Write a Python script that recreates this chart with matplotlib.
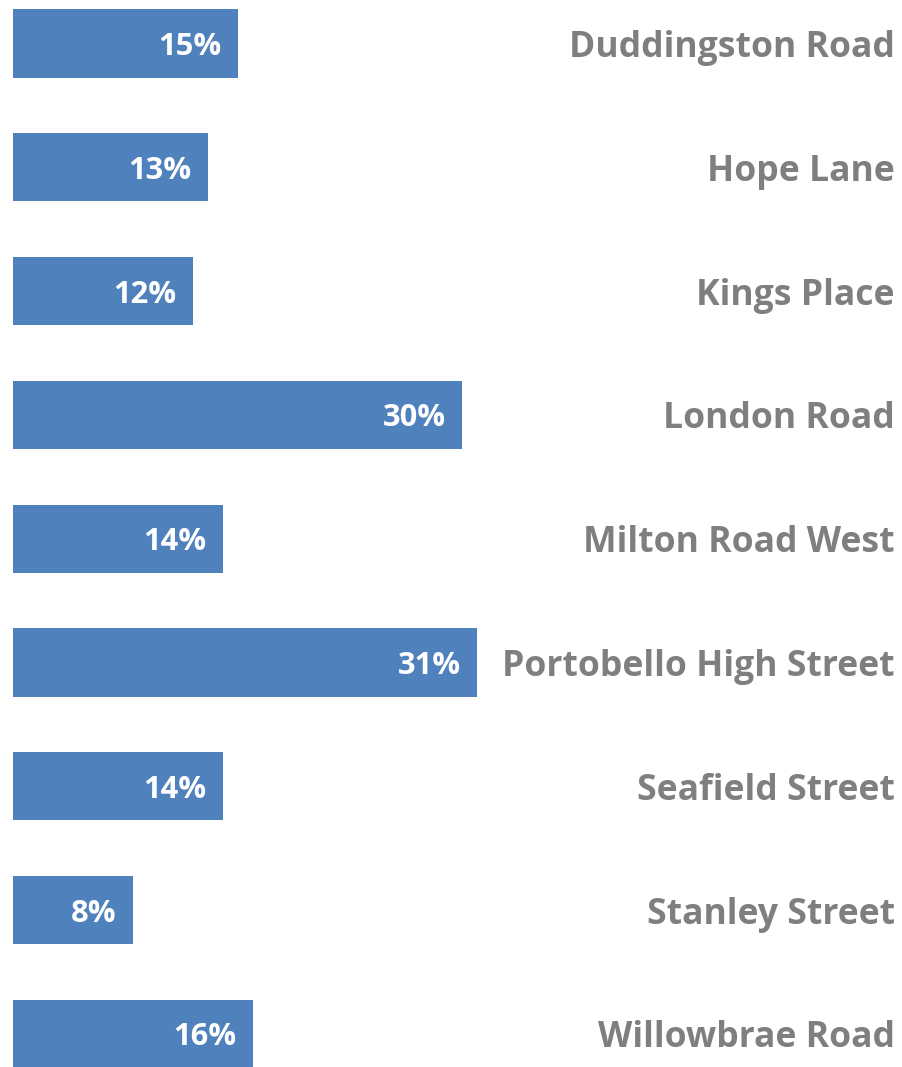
import matplotlib
matplotlib.use("Agg")
import matplotlib.pyplot as plt

streets = ["Duddingston Road", "Hope Lane", "Kings Place", "London Road",
           "Milton Road West", "Portobello High Street", "Seafield Street",
           "Stanley Street", "Willowbrae Road"]
shares = [15, 13, 12, 30, 14, 31, 14, 8, 16]

bar_color = "#4f81bd"
label_color = "#7f7f7f"

plt.rcParams["font.family"] = ["Open Sans", "DejaVu Sans"]

fig = plt.figure(figsize=(9.02, 10.67), dpi=100)
ax = fig.add_axes([0, 0, 1, 1])

pos = list(range(len(streets)))
ax.barh(pos, shares, height=0.55, color=bar_color)

# pixel mapping: 0% at x=13px, ~14.97 px per percent
ax.set_xlim(-13 / 14.97, (902 - 13) / 14.97)
ax.set_ylim((1067 - 43.5) / 123.8, -43.5 / 123.8)

for i, (name, v) in enumerate(zip(streets, shares)):
    ax.text(v - 1.1, i, f"{v}%", ha="right", va="center_baseline",
            color="white", fontsize=22.2, fontweight="bold")
    ax.text(0.9922, i, name, transform=ax.get_yaxis_transform(),
            ha="right", va="center_baseline", color=label_color,
            fontsize=25.6, fontweight="bold")

ax.axis("off")
fig.savefig("out.png", dpi=100)
